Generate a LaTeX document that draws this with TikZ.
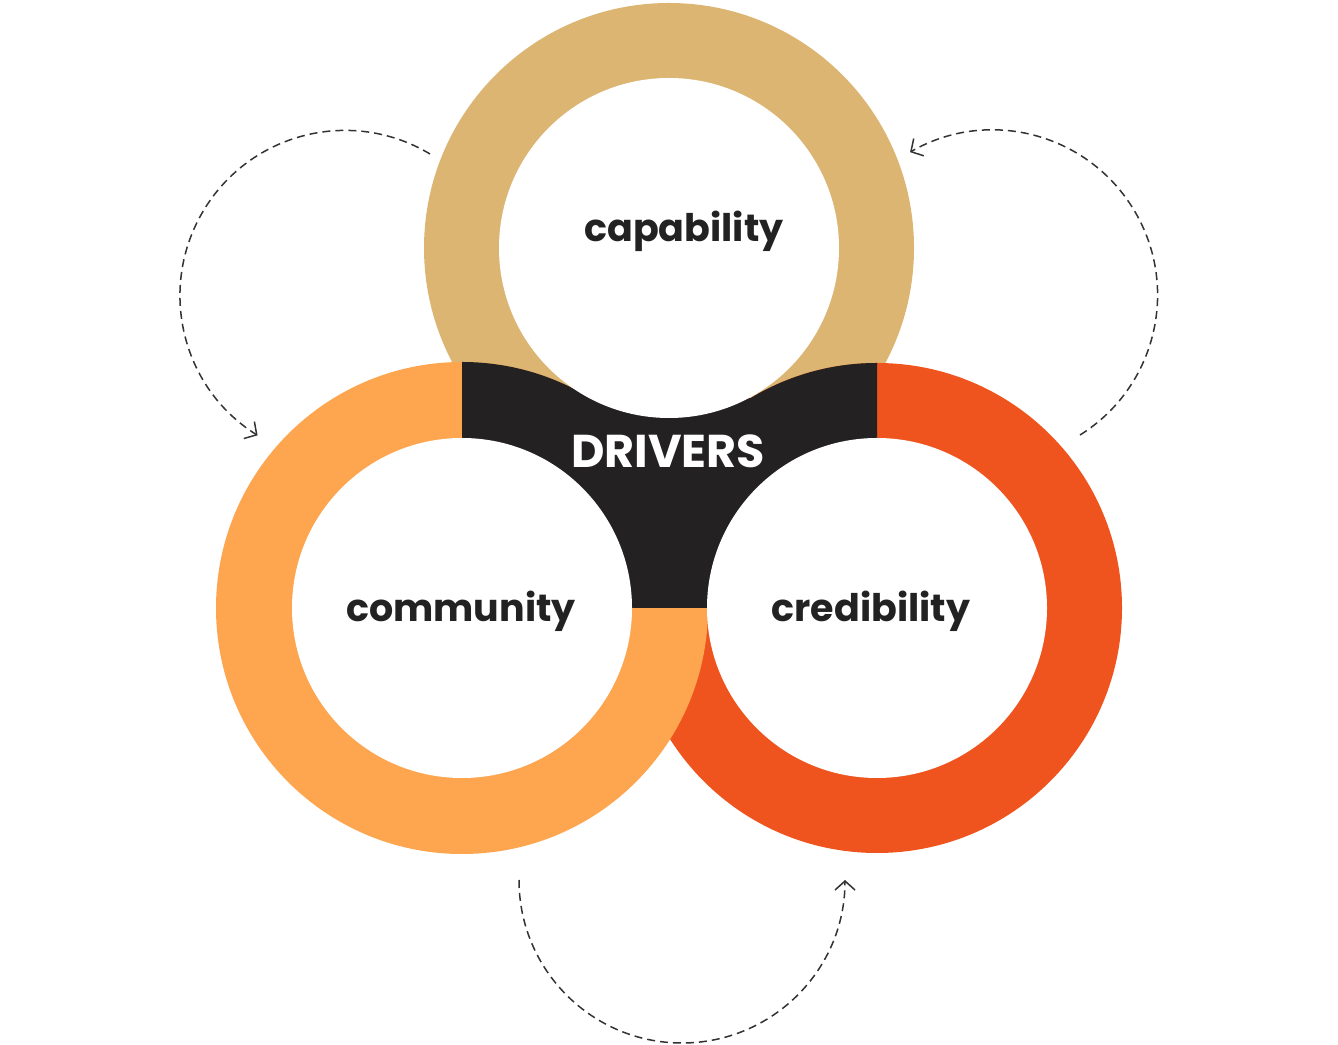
\documentclass[tikz,border=0pt]{standalone}
\usepackage{fontspec}
\setmainfont{Poppins}
\usepackage{tikz}
\usetikzlibrary{arrows.meta}
\definecolor{captan}{HTML}{DCB573}
\definecolor{comorange}{HTML}{FDA54F}
\definecolor{credred}{HTML}{EF541E}
\definecolor{drvblack}{HTML}{232122}
\definecolor{txtdark}{HTML}{222222}
\definecolor{flowgray}{HTML}{333333}
\tikzset{>={Straight Barb[length=4.5pt,width=10pt]}}
\tikzset{
  hole/.style={circle, fill=white, inner sep=0pt, outer sep=0pt, minimum size=170pt},
  word/.style={anchor=base, text=txtdark, font=\fontsize{19}{22}\selectfont\bfseries},
  flow/.style={->, flowgray, line width=0.75pt, dash pattern=on 4pt off 2.5pt}
}

\begin{document}
\begin{tikzpicture}[x=0.5pt, y=0.5pt]
                        % rings first, black hub, then the white holes on top
                        \useasboundingbox (0,0) rectangle (1338,1044);
                        \fill[captan] (669,796) circle[radius=245];
                        \fill[credred] (877,436) circle[radius=245];
                        \fill[comorange] (462,436) circle[radius=246];
                        \begin{scope}
                                \clip (462,436) rectangle (877,682);
                                \fill[drvblack] (462,436) circle[radius=246];
                                \fill[drvblack] (877,436) circle[radius=245];
                                \fill[drvblack] (462,436) rectangle (877,646);
                        \end{scope}
                        \node[hole] (cap) at (669,796) {};
                        \node[hole] (com) at (462,436) {};
                        \node[hole] (cred) at (877,436) {};

                        \node[word] (capt) at (684,802) {capability};
                        \node[word] (comt) at (461,422) {community};
                        \node[word] (credt) at (871,422) {credibility};
                        \node[word, text=white, font=\fontsize{23}{26}\selectfont\bfseries]
                                (drv) at (668,576) {DRIVERS};

                        \coordinate (capfrom) at (430,890);
                        \coordinate (credfrom) at (1080,609);
                        \coordinate (comfrom) at (519,164);

                        \draw[flow] (capfrom) arc[start angle=59, end angle=238, radius=165];
                        \draw[flow] (credfrom) arc[start angle=-58, end angle=120, radius=165];
                        \draw[flow] (comfrom) arc[start angle=180, end angle=360, radius=163];
\end{tikzpicture}
\end{document}
